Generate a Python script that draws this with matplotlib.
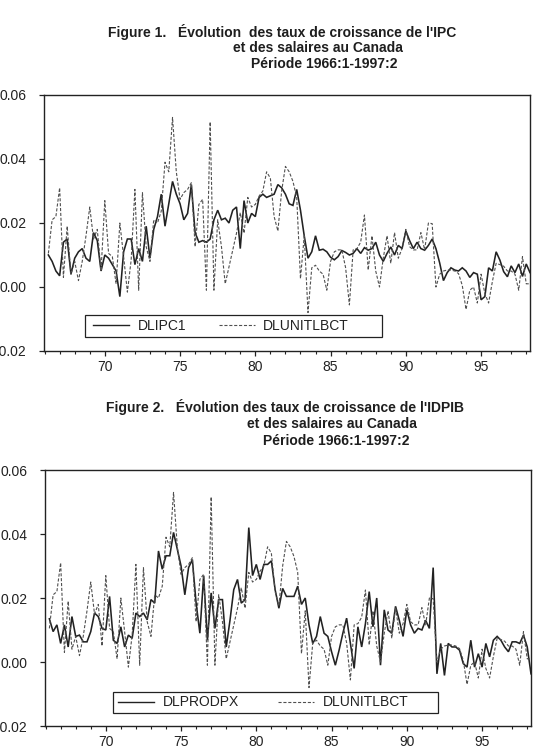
import numpy as np
import matplotlib
matplotlib.use("Agg")
import matplotlib.pyplot as plt
from matplotlib.patches import Rectangle
from matplotlib.lines import Line2D
from matplotlib.ticker import MultipleLocator, FuncFormatter

plt.rcParams['font.family'] = ['Liberation Sans', 'DejaVu Sans']
plt.rcParams['axes.unicode_minus'] = False

# ---------------- data (quarterly growth rates) ----------------
dlipc1 = [
    0.010, 0.008, 0.005, 0.0035, 0.014, 0.015, 0.004, 0.009, 0.011, 0.012,
    0.009, 0.008, 0.017, 0.0145, 0.005, 0.010, 0.009, 0.007, 0.005, -0.003,
    0.011, 0.015, 0.015, 0.007, 0.012, 0.008, 0.019, 0.009, 0.018, 0.022,
    0.029, 0.019, 0.026, 0.033, 0.029, 0.026, 0.021, 0.023, 0.032, 0.017,
    0.014, 0.0145, 0.014, 0.015, 0.021, 0.024, 0.021, 0.0215, 0.020, 0.024,
    0.025, 0.012, 0.027, 0.020, 0.023, 0.022, 0.028, 0.029,
    0.028, 0.0285, 0.029, 0.032, 0.031, 0.029, 0.026, 0.0255, 0.0305, 0.024,
    0.016, 0.009, 0.011, 0.016, 0.0115, 0.0118, 0.011, 0.0093, 0.0085, 0.0095,
    0.0114, 0.0108, 0.010, 0.0105, 0.012, 0.0105, 0.0123, 0.0115, 0.012, 0.014,
    0.010, 0.008, 0.0105, 0.0125, 0.010, 0.013, 0.012, 0.0175, 0.0145, 0.012,
    0.014, 0.012, 0.0115, 0.013, 0.015, 0.012, 0.0075, 0.002, 0.0045, 0.006,
    0.0053, 0.005, 0.006, 0.005, 0.003, 0.0045, 0.004, -0.004, -0.003, 0.006,
    0.005, 0.011, 0.0084, 0.0048, 0.0032, 0.0066, 0.0045, 0.0072, 0.0033, 0.0072,
    0.0045,
]

dlunitlbct = [
    0.0105, 0.021, 0.022, 0.031, 0.003, 0.019, 0.004, 0.008, 0.002, 0.008,
    0.016, 0.025, 0.015, 0.018, 0.005, 0.027, 0.0105, 0.0095, 0.001, 0.020,
    0.0095, -0.0016, 0.0084, 0.0305, -0.001, 0.0295, 0.0126, 0.008, 0.021, 0.020,
    0.0237, 0.039, 0.036, 0.053, 0.036, 0.0274, 0.0295, 0.0305, 0.0326, 0.0126,
    0.0258, 0.0274, -0.001, 0.0516, -0.001, 0.021, 0.0126, 0.001, 0.0063, 0.0116,
    0.0168, 0.0232, 0.0168, 0.028, 0.025, 0.0258, 0.0284, 0.030, 0.036, 0.034,
    0.022, 0.0175, 0.030, 0.0377, 0.036, 0.033, 0.028, 0.0026, 0.016, -0.008,
    0.006, 0.0068, 0.005, 0.004, -0.001, 0.008, 0.011, 0.0116, 0.0116, 0.006,
    -0.0056, 0.0116, 0.012, 0.014, 0.0225, 0.0053, 0.016, 0.005, 0.0, 0.009,
    0.016, 0.0074, 0.017, 0.009, 0.012, 0.018, 0.0126, 0.0116, 0.0116, 0.017,
    0.0116, 0.020, 0.0198, 0.0, 0.004, 0.005, 0.0053, 0.0053, 0.005, 0.0042,
    0.0005, -0.007, -0.001, 0.0, -0.005, 0.004, -0.002, -0.005, 0.0017, 0.0074,
    0.007, 0.0065, 0.005, 0.005, 0.004, -0.001, 0.0095, 0.001, 0.001,
]

dlprodpx = [
    0.0135, 0.0095, 0.0116, 0.0058, 0.0116, 0.0047, 0.0142, 0.008, 0.0084, 0.0063,
    0.0063, 0.0095, 0.0153, 0.0142, 0.0105, 0.010, 0.0205, 0.0068, 0.0058, 0.011,
    0.0047, 0.0084, 0.0074, 0.0153, 0.0142, 0.0153, 0.0132, 0.0195, 0.0184, 0.0347,
    0.029, 0.0332, 0.0332, 0.0405, 0.0353, 0.030, 0.021, 0.0295, 0.032, 0.0184,
    0.009, 0.027, 0.0068, 0.0216, 0.0105, 0.0195, 0.0195, 0.0047, 0.013, 0.0226,
    0.0258, 0.0184, 0.0195, 0.042, 0.027, 0.0305, 0.0258, 0.0305,
    0.0305, 0.0316, 0.0226, 0.0168, 0.023, 0.0205, 0.0205, 0.0205, 0.0237, 0.018,
    0.020, 0.0116, 0.0058, 0.008, 0.0142, 0.009, 0.008, 0.0032, -0.001, 0.0037,
    0.009, 0.0137, 0.0058, -0.002, 0.011, 0.0047, 0.012, 0.022, 0.011, 0.020,
    -0.001, 0.0163, 0.010, 0.009, 0.0174, 0.013, 0.008, 0.0163, 0.0116, 0.009,
    0.0105, 0.010, 0.013, 0.0105, 0.0295, -0.0037, 0.0058, -0.0042, 0.0058, 0.0047,
    0.0047, 0.0037, -0.0005, -0.0016, 0.0068, -0.0016, 0.0026, -0.0016, 0.0058, 0.0016,
    0.0068, 0.008, 0.0068, 0.0047, 0.0032, 0.0063, 0.0063, 0.0058, 0.0084, 0.0047,
    -0.0037,
]

n_obs = len(dlunitlbct)
dates = 1966 + (np.arange(n_obs) + 1) / 4.0   # quarterly, plotted at quarter end

year_ticks = [1970, 1975, 1980, 1985, 1990, 1995]
y_ticks = [-0.02, 0.00, 0.02, 0.04, 0.06]

titles = [
    ["Figure 1.   Évolution  des taux de croissance de l'IPC",
     "et des salaires au Canada",
     "Période 1966:1-1997:2"],
    ["Figure 2.   Évolution des taux de croissance de l'IDPIB",
     "et des salaires au Canada",
     "Période 1966:1-1997:2"],
]
series_names = [("DLIPC1", "DLUNITLBCT"), ("DLPRODPX", "DLUNITLBCT")]
solid_series = [dlipc1, dlprodpx]

# ---------------- figure ----------------
W, H = 536, 754
fig = plt.figure(figsize=(W / 100, H / 100), dpi=100)

def fx(px):
    return px / W

def fy(py):
    return 1 - py / H

panels = [
    dict(left=44, right=530, top=95, bottom=351,
         title_pos=[(108, 32), (233, 48), (251, 64)],
         box=(85, 382, 315, 337), leg_x=93, colspace=2.35),
    dict(left=45, right=531, top=470, bottom=726,
         title_pos=[(106, 407), (247, 424), (263, 441)],
         box=(113, 438, 692, 713), leg_x=118, colspace=2.85),
]

line_col = '#222222'
dash_col = '#505050'

for p, title, names, solid in zip(panels, titles, series_names, solid_series):
    ax = fig.add_axes([fx(p['left']), fy(p['bottom']),
                       fx(p['right'] - p['left']), (p['bottom'] - p['top']) / H])
    ax.plot(dates, solid, color=line_col, lw=1.15, solid_joinstyle='miter')
    ax.plot(dates, dlunitlbct, color=dash_col, lw=0.8, dashes=(2.8, 1.6))

    ax.set_xlim(1965.96, 1998.25)
    ax.set_ylim(-0.02, 0.06)
    ax.set_xticks(year_ticks)
    ax.xaxis.set_minor_locator(MultipleLocator(1))
    ax.xaxis.set_major_formatter(FuncFormatter(lambda v, pos: f"{int(round(v)) % 100:02d}"))
    ax.set_yticks(y_ticks)
    ax.yaxis.set_major_formatter(FuncFormatter(lambda v, pos: f"{v:.2f}"))
    ax.tick_params(axis='y', which='major', direction='out', length=3.8, width=0.9,
                   pad=9.0, labelsize=10, colors='#222222')
    ax.tick_params(axis='x', which='major', direction='out', length=3.8, width=0.9,
                   pad=2.5, labelsize=10, colors='#222222')
    ax.tick_params(axis='x', which='minor', direction='out', length=2.2, width=0.8,
                   colors='#222222')
    for s in ax.spines.values():
        s.set_linewidth(1.0)
        s.set_color('#222222')

    # legend box and entries
    bx0, bx1, by0, by1 = p['box']
    ax_w = p['right'] - p['left']
    ax_h = p['bottom'] - p['top']
    rect = Rectangle(((bx0 - p['left']) / ax_w, (p['bottom'] - by1) / ax_h),
                     (bx1 - bx0) / ax_w, (by1 - by0) / ax_h,
                     transform=ax.transAxes, fill=True, facecolor='white',
                     edgecolor='#222222', lw=0.9, zorder=5)
    ax.add_patch(rect)
    handles = [Line2D([], [], color=line_col, lw=1.0),
               Line2D([], [], color=dash_col, lw=0.8, dashes=(2.8, 1.6))]
    leg = ax.legend(handles, names, ncol=2, loc='center left',
                    bbox_to_anchor=((p['leg_x'] - p['left']) / ax_w,
                                    (p['bottom'] - (by0 + by1) / 2) / ax_h),
                    frameon=False, fontsize=10, handlelength=2.6,
                    handletextpad=0.6, columnspacing=p['colspace'],
                    borderpad=0, borderaxespad=0)
    leg.set_zorder(6)
    for t in leg.get_texts():
        t.set_color('#222222')

    for (tx, ty), line in zip(p['title_pos'], title):
        fig.text(fx(tx), fy(ty), line, ha='left', va='center',
                 fontsize=10, fontweight='bold', color='#1e1e1e')

fig.savefig("out.png", dpi=100)
